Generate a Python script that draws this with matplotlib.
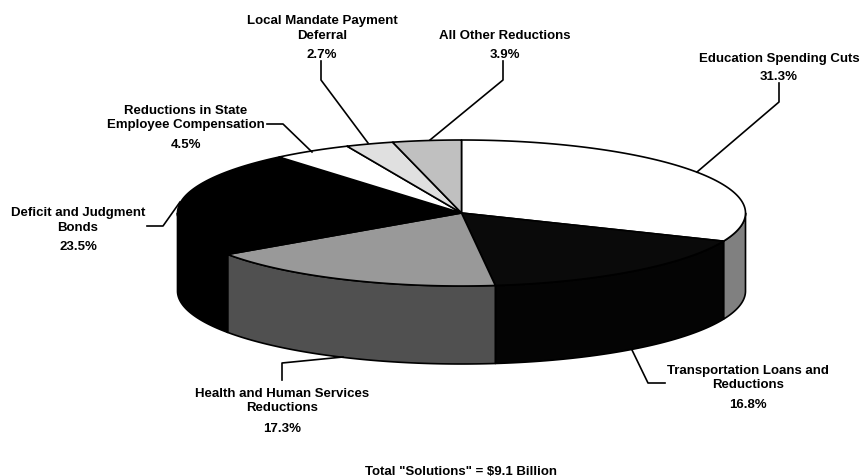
import numpy as np
import matplotlib
matplotlib.use('Agg')
import matplotlib.pyplot as plt
from matplotlib.patches import Polygon

plt.rcParams['font.family'] = ['Liberation Sans', 'DejaVu Sans']

labels = ['Education Spending Cuts', 'Transportation Loans and\nReductions',
          'Health and Human Services\nReductions', 'Deficit and Judgment\nBonds',
          'Reductions in State\nEmployee Compensation', 'Local Mandate Payment\nDeferral',
          'All Other Reductions']
shares = [31.3, 16.8, 17.3, 23.5, 4.5, 2.7, 3.9]
top_colors = ['#ffffff', '#0a0a0a', '#999999', '#000000', '#ffffff', '#e0e0e0', '#c0c0c0']
side_colors = ['#808080', '#040404', '#505050', '#000000', '#808080', '#808080', '#808080']
label_x = [779, 748, 282, 78, 186, 322, 505]
name_y = [59, 378, 401, 220.5, 118, 28.5, 36]
pct_y = [77, 405, 429, 247, 145, 55, 55]
leaders = [[(697, 173), (779, 103), (779, 84)], [(632, 351), (648, 384), (665, 384)],
           [(343, 358), (282, 364), (282, 381)], [(180, 203), (163, 227), (147, 227)],
           [(312, 153), (283, 125), (267, 125)], [(368, 144), (321, 81), (321, 62)],
           [(430, 141), (503, 81), (503, 62)]]

CX, CY, RX, RY, DEPTH = 461.5, 214, 284, 73, 78


def rim(a0, a1, dy=0):
    t = np.radians(np.linspace(a0, a1, 100))
    return np.column_stack([CX + RX * np.sin(t), CY + dy - RY * np.cos(t)])


fig, ax = plt.subplots(figsize=(8.6, 4.77), dpi=100, facecolor='white')
ax.set_position([0, 0, 1, 1])
ax.set_xlim(0, 860)
ax.set_ylim(477, 0)
ax.axis('off')

edges = np.cumsum([0] + shares) / sum(shares) * 360

# side walls first, only the front half of the pie shows
for i in range(len(shares)):
    a0, a1 = max(edges[i], 90), min(edges[i + 1], 270)
    if a0 < a1:
        pts = np.vstack([rim(a0, a1), rim(a1, a0, DEPTH)])
        ax.add_patch(Polygon(pts, fc=side_colors[i], ec='black', lw=1.2, joinstyle='round'))

for i in range(len(shares)):
    pts = np.vstack([[(CX, CY)], rim(edges[i], edges[i + 1])])
    ax.add_patch(Polygon(pts, fc=top_colors[i], ec='black', lw=1.2, joinstyle='round'))

for line in leaders:
    xs, ys = zip(*line)
    ax.plot(xs, ys, color='black', lw=1.2, zorder=1)

for name, val, x, y0, y1 in zip(labels, shares, label_x, name_y, pct_y):
    ax.text(x, y0, name, ha='center', va='center', fontsize=9.5,
            fontweight='bold', linespacing=1.33)
    ax.text(x, y1, f'{val}%', ha='center', va='center', fontsize=9.5, fontweight='bold')

ax.text(461, 472, 'Total "Solutions" = $9.1 Billion', ha='center', va='center',
        fontsize=9.5, fontweight='bold')

fig.savefig('out.png', dpi=100, facecolor='white')
